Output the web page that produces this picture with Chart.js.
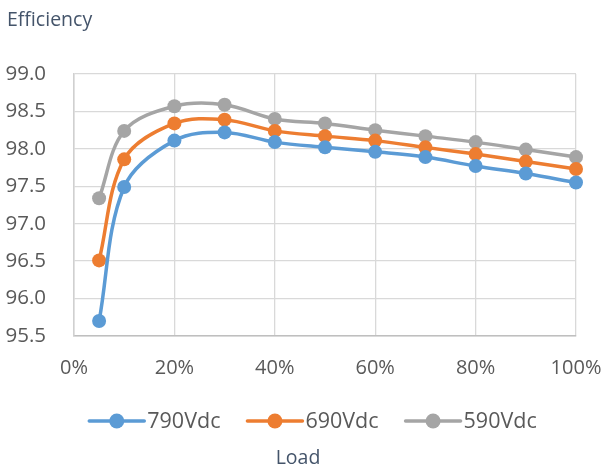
<!DOCTYPE html>
<html>
<head>
<meta charset="utf-8">
<script src="https://cdn.jsdelivr.net/npm/chart.js@4/dist/chart.umd.min.js"></script>
<style>
  html, body { margin: 0; padding: 0; background: #fff; }
  #wrap { width: 606px; height: 470px; position: relative; }
</style>
</head>
<body>
<div id="wrap"><canvas id="eff"></canvas></div>
<script>
"use strict"
// load in %, efficiency in %
const loads = [5, 10, 20, 30, 40, 50, 60, 70, 80, 90, 100]
const eff790 = [95.70, 97.49, 98.11, 98.22, 98.09, 98.02, 97.96, 97.89, 97.77, 97.67, 97.55]
const eff690 = [96.51, 97.86, 98.34, 98.39, 98.24, 98.17, 98.11, 98.02, 97.93, 97.83, 97.73]
const eff590 = [97.34, 98.24, 98.57, 98.59, 98.40, 98.34, 98.25, 98.17, 98.09, 97.99, 97.89]
const seriesNames = ['790Vdc', '690Vdc', '590Vdc']
const seriesColors = ['#5B9BD5', '#ED7D31', '#A5A5A5']
const yTitle = 'Efficiency'
const xTitle = 'Load'

const font = '"Open Sans", "DejaVu Sans", sans-serif'

let toPoints = vals => vals.map((v, i) => ({x: loads[i], y: v}))

let mkSet = (i, vals) => ({
  label: seriesNames[i],
  data: toPoints(vals),
  borderColor: seriesColors[i],
  backgroundColor: seriesColors[i],
  borderWidth: 3.5,
  pointRadius: 7,
  pointHoverRadius: 7,
  pointBorderWidth: 0,
  tension: 0.35,
  clip: false,
  fill: false
})

// title, legend and axis name drawn by hand, Excel style
const extras = {
  id: 'extras',
  afterDraw(chart) {
    const c = chart.ctx
    c.save()
    c.textBaseline = 'middle'
    c.fillStyle = '#44546A'
    c.font = '19.5px ' + font
    c.textAlign = 'left'
    c.fillText(yTitle, 7, 20)
    c.textAlign = 'center'
    c.fillText(xTitle, 298, 458)

    // legend
    c.font = '21.5px ' + font
    const lineW = 55, gap = 3, itemGap = 27, ly = 421
    const items = chart.data.datasets.map(d => ({d, w: lineW + gap + c.measureText(d.label).width}))
    let total = items.reduce((s, it) => s + it.w, 0) + itemGap * (items.length - 1)
    let x = 313 - total / 2
    items.forEach(it => {
      c.strokeStyle = it.d.borderColor
      c.lineWidth = 3.5
      c.lineCap = 'round'
      c.beginPath()
      c.moveTo(x, ly)
      c.lineTo(x + lineW, ly)
      c.stroke()
      c.fillStyle = it.d.backgroundColor
      c.beginPath()
      c.arc(x + lineW / 2, ly, 7.5, 0, Math.PI * 2)
      c.fill()
      c.fillStyle = '#595959'
      c.textAlign = 'left'
      c.fillText(it.d.label, x + lineW + gap, ly + 1)
      x += it.w + itemGap
    })
    c.restore()
  }
}

new Chart(document.getElementById('eff'), {
  type: 'line',
  data: {
    datasets: [mkSet(0, eff790), mkSet(1, eff690), mkSet(2, eff590)]
  },
  options: {
    responsive: true,
    maintainAspectRatio: false,
    animation: false,
    layout: {padding: {top: 74, right: 30, bottom: 84, left: 0}},
    plugins: {legend: {display: false}, tooltip: {enabled: false}},
    scales: {
      x: {
        type: 'linear', min: 0, max: 100,
        afterFit: s => { s.height = 50; s.paddingLeft = 0; s.paddingRight = 0 },
        grid: {color: '#D9D9D9', lineWidth: 1.3, drawTicks: false},
        border: {color: '#BFBFBF', width: 1.5},
        ticks: {
          stepSize: 20, padding: 20, color: '#595959',
          font: {size: 20, family: font},
          callback: v => v + '%'
        }
      },
      y: {
        min: 95.5, max: 99,
        afterFit: s => { s.width = 74; s.paddingTop = 0; s.paddingBottom = 0 },
        grid: {color: '#D9D9D9', lineWidth: 1.3, drawTicks: false},
        border: {color: '#D0D0D0', width: 1.5},
        ticks: {
          stepSize: 0.5, padding: 28, color: '#595959',
          font: {size: 20.5, family: font},
          callback: v => v.toFixed(1)
        }
      }
    }
  },
  plugins: [extras]
})
</script>
</body>
</html>
